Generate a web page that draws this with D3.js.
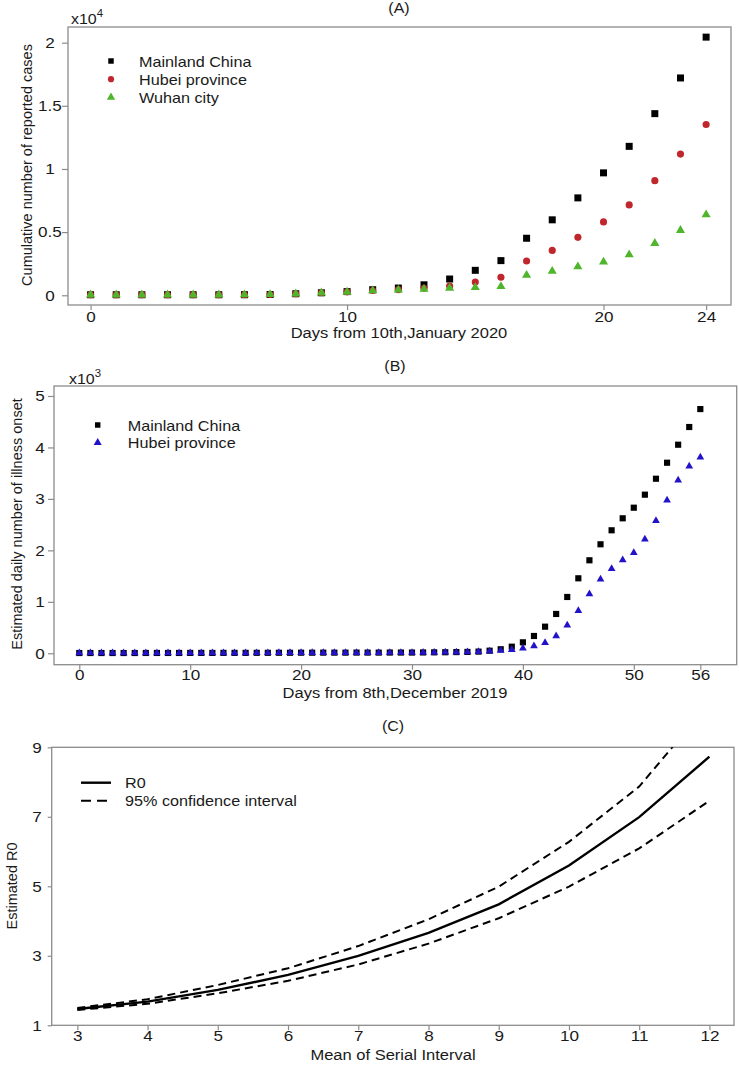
<!DOCTYPE html>
<html><head><meta charset="utf-8">
<script src="https://cdn.jsdelivr.net/npm/d3@7"></script>
<style>
body{margin:0;background:#fff;}
svg{display:block;font-family:"Liberation Sans",Arial,sans-serif;}
</style></head><body>
<svg id="chart" width="739" height="1066"></svg>
<script>
// ---------- Panel A data (cumulative reported cases) ----------
const daysA = [0,1,2,3,4,5,6,7,8,9,10,11,12,13,14,15,16,17,18,19,20,21,22,23,24];
const mainlandA = [41,41,41,41,41,41,45,62,121,198,291,440,571,830,1287,1975,2744,4515,5974,7711,9692,11791,14380,17205,20438];
const hubeiA = [41,41,41,41,41,41,45,62,121,198,270,375,444,549,729,1052,1423,2714,3554,4586,5806,7153,9074,11177,13522];
const wuhanA = [41,41,41,41,41,41,45,62,121,198,258,363,425,495,572,618,698,1590,1905,2261,2639,3215,4109,5142,6384];
const yTicksA = [0,0.5,1,1.5,2];
const xTicksA = [0,10,20,24];
const seriesNamesA = ["Mainland China","Hubei province","Wuhan city"];

// ---------- Panel B data (estimated daily illness onset) ----------
const daysB = [0,1,2,3,4,5,6,7,8,9,10,11,12,13,14,15,16,17,18,19,20,21,22,23,24,25,26,27,28,29,30,31,32,33,34,35,36,37,38,39,40,41,42,43,44,45,46,47,48,49,50,51,52,53,54,55,56];
const mainlandB = [5,5,5,5,5,5,6,6,6,6,7,7,7,8,8,8,9,9,10,10,11,11,12,12,12,13,13,13,14,14,14,16,18,20,23,26,32,50,78,128,213,336,517,764,1094,1457,1807,2118,2390,2623,2829,3082,3392,3703,4053,4397,4746];
const hubeiB = [4,4,4,4,4,4,5,5,5,5,6,6,6,7,7,7,8,8,9,9,10,10,11,11,11,12,12,12,13,13,13,15,17,19,21,24,30,40,55,70,97,142,206,336,544,828,1152,1437,1644,1813,1955,2215,2577,2972,3361,3633,3808];
const yTicksB = [0,1,2,3,4,5];
const xTicksB = [0,10,20,30,40,50,56];
const seriesNamesB = ["Mainland China","Hubei province"];

// ---------- Panel C data (R0 vs serial interval) ----------
const serialInterval = [3,4,5,6,7,8,9,10,11,12];
const r0 = [1.47,1.68,2.02,2.45,3.0,3.66,4.48,5.6,6.99,8.73];
const r0Upper = [1.50,1.75,2.16,2.64,3.28,4.05,4.99,6.28,7.87,10.27];
const r0Lower = [1.44,1.62,1.92,2.28,2.75,3.35,4.08,4.99,6.09,7.46];
const yTicksC = [1,3,5,7,9];
const xTicksC = [3,4,5,6,7,8,9,10,11,12];

// ---------- styles ----------
const FRAME = "#8c8c8c";
const TXT = "#1a1a1a";
const colMain = "#000000", colHubei = "#c0272d", colWuhan = "#4fb52a", colBlue = "#2212c8";
const SX = 1.14; // horizontal stretch of the original figure's lettering

const svg = d3.select("#chart");
svg.append("rect").attr("width",739).attr("height",1066).attr("fill","#fff");

function frame(g, x0, y0, x1, y1){
  g.append("rect").attr("x",x0).attr("y",y0).attr("width",x1-x0).attr("height",y1-y0)
   .attr("fill","none").attr("stroke",FRAME).attr("stroke-width",1.3);
}
function styleAxis(sel){
  sel.select(".domain").remove();
  sel.selectAll(".tick line").attr("stroke",FRAME).attr("stroke-width",1.2);
  sel.selectAll(".tick text").attr("fill",TXT).style("font-size","15px")
     .attr("transform",`scale(${SX},1)`);
}
function label(g, x, y, str, size, anchor, stretch){
  return g.append("text").attr("transform",`translate(${x},${y}) scale(${stretch===undefined?SX:stretch},1)`)
    .attr("text-anchor",anchor||"start").attr("fill",TXT).style("font-size",size+"px").text(str);
}
function fmt(v){ return String(v); }

// ================= Panel A =================
{
  const x = d3.scaleLinear().domain([-0.88,24.97]).range([68,731]);
  const y = d3.scaleLinear().domain([-0.077,2.124]).range([305,27]);
  const g = svg.append("g");
  frame(g, 68, 27, 731, 305);
  const ax = g.append("g").attr("transform","translate(0,305)")
    .call(d3.axisBottom(x).tickValues(xTicksA).tickSize(5).tickPadding(1.5).tickFormat(fmt));
  styleAxis(ax);
  const ay = g.append("g").attr("transform","translate(68,0)")
    .call(d3.axisLeft(y).tickValues(yTicksA).tickSize(6).tickFormat(fmt));
  styleAxis(ay);
  ay.selectAll(".tick text").attr("x",-18/SX).attr("text-anchor","middle");

  const sq = d3.symbol().type(d3.symbolSquare).size(49);
  const ci = d3.symbol().type(d3.symbolCircle).size(40);
  const tr = d3.symbol().type(d3.symbolTriangle).size(36);
  g.selectAll(".mA").data(daysA).join("path")
    .attr("d",sq).attr("fill",colMain)
    .attr("transform",(d,i)=>`translate(${x(d)},${y(mainlandA[i]/10000)})`);
  g.selectAll(".hA").data(daysA).join("path")
    .attr("d",ci).attr("fill",colHubei)
    .attr("transform",(d,i)=>`translate(${x(d)},${y(hubeiA[i]/10000)})`);
  g.selectAll(".wA").data(daysA).join("path")
    .attr("d",tr).attr("fill",colWuhan)
    .attr("transform",(d,i)=>`translate(${x(d)},${y(wuhanA[i]/10000)})`);

  const legSyms = [d3.symbol().type(d3.symbolSquare).size(30), d3.symbol().type(d3.symbolCircle).size(30), d3.symbol().type(d3.symbolTriangle).size(30)];
  const legCols = [colMain, colHubei, colWuhan];
  seriesNamesA.forEach((n,i)=>{
    const ly = 61 + i*18.2;
    g.append("path").attr("d",legSyms[i]).attr("fill",legCols[i]).attr("transform",`translate(111,${ly})`);
    label(g, 139, ly+5.5, n, 14.2, "start");
  });

  label(g, 399, 12.5, "(A)", 14, "middle");
  const ex = g.append("text").attr("transform",`translate(71,23.5) scale(${SX},1)`).attr("fill",TXT).style("font-size","14px");
  ex.append("tspan").text("x10");
  ex.append("tspan").attr("dy",-7).style("font-size","10px").text("4");
  g.append("text").attr("transform","translate(32,165) rotate(-90)").attr("text-anchor","middle")
    .attr("fill",TXT).style("font-size","14.5px").text("Cumulative number of reported cases");
  label(g, 399, 337.5, "Days from 10th,January 2020", 14.5, "middle");
}

// ================= Panel B =================
{
  const x = d3.scaleLinear().domain([-2.28,59.28]).range([54,736.7]);
  const y = d3.scaleLinear().domain([-0.222,5.194]).range([664.7,386]);
  const g = svg.append("g");
  frame(g, 54, 386, 736.7, 664.7);
  const ax = g.append("g").attr("transform","translate(0,664.7)")
    .call(d3.axisBottom(x).tickValues(xTicksB).tickSize(5).tickPadding(0).tickFormat(fmt));
  styleAxis(ax);
  const ay = g.append("g").attr("transform","translate(54,0)")
    .call(d3.axisLeft(y).tickValues(yTicksB).tickSize(6).tickFormat(fmt));
  styleAxis(ay);
  ay.selectAll(".tick text").attr("x",-14/SX).attr("text-anchor","middle");

  const sq = d3.symbol().type(d3.symbolSquare).size(38);
  const tr = d3.symbol().type(d3.symbolTriangle).size(26);
  g.selectAll(".mB").data(daysB).join("path")
    .attr("d",sq).attr("fill",colMain)
    .attr("transform",(d,i)=>`translate(${x(d)},${y(mainlandB[i]/1000)})`);
  g.selectAll(".hB").data(daysB).join("path")
    .attr("d",tr).attr("fill",colBlue)
    .attr("transform",(d,i)=>`translate(${x(d)},${y(hubeiB[i]/1000)})`);

  const legSyms = [d3.symbol().type(d3.symbolSquare).size(30), d3.symbol().type(d3.symbolTriangle).size(28)];
  const legCols = [colMain, colBlue];
  seriesNamesB.forEach((n,i)=>{
    const ly = 425 + i*17.7;
    g.append("path").attr("d",legSyms[i]).attr("fill",legCols[i]).attr("transform",`translate(97.7,${ly})`);
    label(g, 127.7, ly+5.5, n, 14.2, "start");
  });

  label(g, 395, 371, "(B)", 14, "middle");
  const ex = g.append("text").attr("transform",`translate(69,383.5) scale(${SX},1)`).attr("fill",TXT).style("font-size","14px");
  ex.append("tspan").text("x10");
  ex.append("tspan").attr("dy",-7).style("font-size","10px").text("3");
  g.append("text").attr("transform","translate(22,524) rotate(-90)").attr("text-anchor","middle")
    .attr("fill",TXT).style("font-size","14.5px").text("Estimated daily number of illness onset");
  label(g, 395, 697.5, "Days from 8th,December 2019", 14.5, "middle");
}

// ================= Panel C =================
{
  const x = d3.scaleLinear().domain([2.635,12.35]).range([51.7,734]);
  const y = d3.scaleLinear().domain([1,9]).range([1025.3,747.3]);
  const g = svg.append("g");
  const defs = svg.append("defs");
  defs.append("clipPath").attr("id","clipC").append("rect")
    .attr("x",51.7).attr("y",747.3).attr("width",734-51.7).attr("height",1025.3-747.3);
  frame(g, 51.7, 747.3, 734, 1025.3);
  const ax = g.append("g").attr("transform","translate(0,1025.3)")
    .call(d3.axisBottom(x).tickValues(xTicksC).tickSize(5).tickPadding(0.5).tickFormat(fmt));
  styleAxis(ax);
  const ay = g.append("g").attr("transform","translate(51.7,0)")
    .call(d3.axisLeft(y).tickValues(yTicksC).tickSize(4).tickFormat(fmt));
  styleAxis(ay);
  ay.selectAll(".tick text").attr("x",-14.7/SX).attr("text-anchor","middle");

  const line = (arr)=> d3.line().x((d,i)=>x(d)).y((d,i)=>y(arr[i]))(serialInterval);
  const lg = g.append("g").attr("clip-path","url(#clipC)");
  lg.append("path").attr("d",line(r0Upper)).attr("fill","none").attr("stroke","#000").attr("stroke-width",2).attr("stroke-dasharray","8,5");
  lg.append("path").attr("d",line(r0Lower)).attr("fill","none").attr("stroke","#000").attr("stroke-width",2).attr("stroke-dasharray","8,5");
  lg.append("path").attr("d",line(r0)).attr("fill","none").attr("stroke","#000").attr("stroke-width",2.4);

  g.append("line").attr("x1",81).attr("x2",111).attr("y1",782.7).attr("y2",782.7).attr("stroke","#000").attr("stroke-width",2.4);
  g.append("line").attr("x1",81).attr("x2",111).attr("y1",800.7).attr("y2",800.7).attr("stroke","#000").attr("stroke-width",2).attr("stroke-dasharray","10,6");
  label(g, 125, 788, "R0", 14.2, "start");
  label(g, 125, 806, "95% confidence interval", 14.2, "start");

  label(g, 393, 731, "(C)", 14, "middle");
  g.append("text").attr("transform","translate(17,886) rotate(-90)").attr("text-anchor","middle")
    .attr("fill",TXT).style("font-size","14.5px").text("Estimated R0");
  label(g, 393, 1059.5, "Mean of Serial Interval", 14.5, "middle");
}
</script>
</body></html>
